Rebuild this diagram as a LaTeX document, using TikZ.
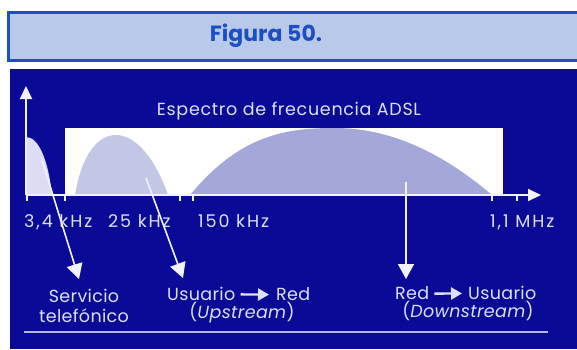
\documentclass[tikz,border=0pt]{standalone}
\usepackage{fontspec}
\setmainfont{Poppins}
\usetikzlibrary{arrows.meta}
\definecolor{panel}{HTML}{0A0A96}
\definecolor{titlefill}{HTML}{B9C9EA}
\definecolor{titleborder}{HTML}{1C4FC0}
\definecolor{phoneband}{HTML}{DCDCF2}
\definecolor{upband}{HTML}{C4C6E6}
\definecolor{downband}{HTML}{A4A8D8}
\definecolor{axiscol}{HTML}{F2F2FF}
\definecolor{txtcol}{HTML}{DCDFF5}
\definecolor{rulecol}{HTML}{B4B8EC}
\newcommand{\lblfont}{\fontsize{17.5}{20}\selectfont\addfontfeatures{LetterSpace=2}}
\tikzset{
  lbl/.style={text=txtcol, inner sep=0pt, font=\lblfont},
  axlbl/.style={text=txtcol, inner sep=0pt, anchor=base west, font=\fontsize{17.5}{20}\selectfont\addfontfeatures{LetterSpace=11}},
  callout/.style={draw=axiscol, line width=1.6pt, -{Triangle[width=16pt,length=15pt]}},
  inarrow/.style={draw=txtcol, line width=2.4pt, -{Triangle[width=12pt,length=11pt]}},
  axisline/.style={draw=axiscol, line width=2pt, -{Triangle[width=12pt,length=13pt]}},
  tick/.style={draw=axiscol, line width=1.4pt}
}
\begin{document}
\begin{tikzpicture}[x=1pt,y=-1pt]
\useasboundingbox (0,0) rectangle (577,349);
% title box
\path[fill=titlefill, draw=titleborder, line width=3pt] (8.5,12.5) rectangle (590,60);
\node[text=titleborder, font=\fontsize{22}{25}\selectfont\bfseries, anchor=base] (title) at (266,41) {Figura 50.};
% panel
\fill[panel] (10,69) rectangle (577,349);
% white rectangle
\fill[white] (65,128) rectangle (503,195);
% bands
\fill[phoneband] (26,195) -- (26,137) .. controls (38,137) and (48,158) .. (52,195) -- cycle;
\fill[upband] (75,195) .. controls (88,115) and (140,115) .. (168,195) -- cycle;
\fill[downband] (190,195) .. controls (240,135) and (285,128) .. (335,128) .. controls (405,128) and (460,168) .. (492,195) -- cycle;
% axes
\coordinate (origin) at (26,195);
\coordinate (ytip) at (26,86);
\coordinate (xtip) at (541,195);
\draw[axisline] (origin) -- (ytip);
\draw[axisline] (origin) -- (xtip);
\foreach \tx in {27,65,180,193,492,517}{
  \draw[tick] (\tx,195) -- (\tx,201);
}
% heading
\node[lbl, anchor=base, font=\fontsize{17.5}{20}\selectfont\addfontfeatures{LetterSpace=4}] (heading) at (289,115) {Espectro de frecuencia ADSL};
% axis labels
\node[axlbl] (f34) at (24,227) {3,4 kHz};
\node[axlbl] (f25) at (108,227) {25 kHz};
\node[axlbl] (f150) at (198,227) {150 kHz};
\node[axlbl] (f11) at (490,227) {1,1 MHz};
% callout arrows
\coordinate (s1) at (42,160);
\coordinate (t1) at (79,279);
\coordinate (s2) at (146,178);
\coordinate (t2) at (183,278);
\coordinate (s3) at (406,182);
\coordinate (t3) at (406,279);
\draw[callout] (s1) -- (t1);
\draw[callout] (s2) -- (t2);
\draw[callout] (s3) -- (t3);
% labels
\node[lbl, anchor=base] (serv) at (84,302) {Servicio};
\node[lbl, anchor=base] (tele) at (84,322) {telefónico};
\node[lbl, anchor=base west] (usu1) at (167,300) {Usuario};
\node[lbl, anchor=base west] (red1) at (276,300) {Red};
\node[lbl, anchor=base] (upst) at (242,318) {(\textit{Upstream})};
\node[lbl, anchor=base west] (red2) at (395,299) {Red};
\node[lbl, anchor=base west] (usu2) at (468,299) {Usuario};
\node[lbl, anchor=base] (downst) at (468,317) {(\textit{Downstream})};
\draw[inarrow] ([xshift=5pt,yshift=-1pt]usu1.east) -- ([xshift=-7pt,yshift=-1pt]red1.west);
\draw[inarrow] ([xshift=5pt,yshift=-1pt]red2.east) -- ([xshift=-6pt,yshift=-1pt]usu2.west);
% bottom rule
\coordinate (r1) at (24,332);
\coordinate (r2) at (548,332);
\draw[draw=rulecol, line width=2pt] (r1) -- (r2);
\end{tikzpicture}
\end{document}
